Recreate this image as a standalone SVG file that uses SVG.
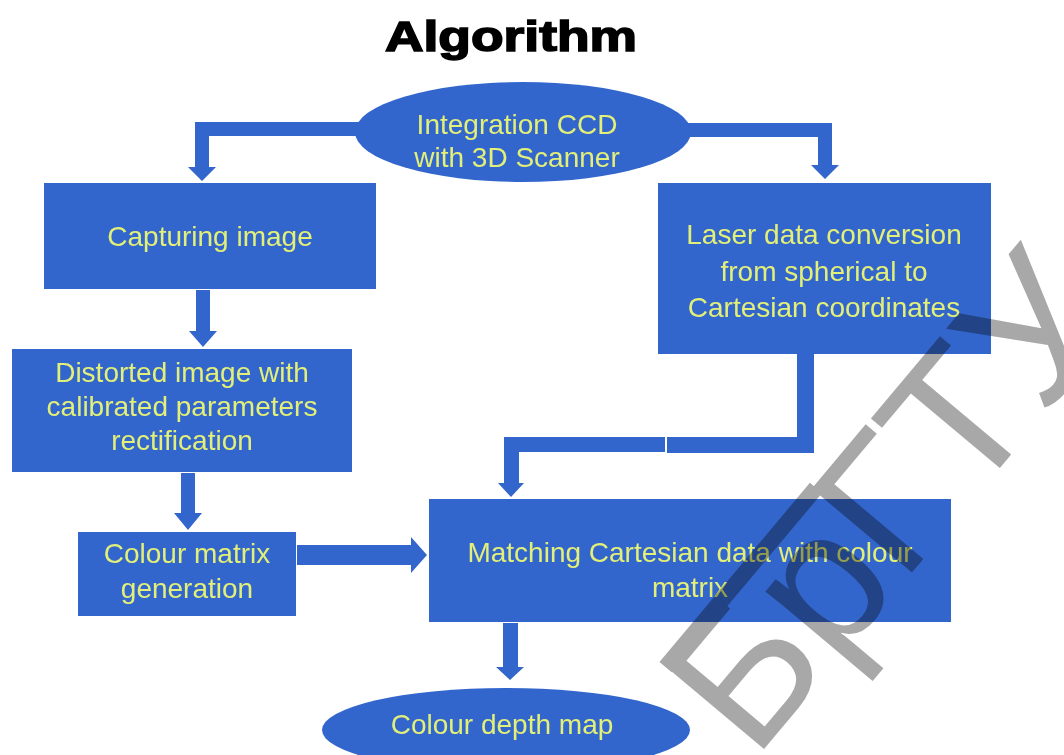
<svg xmlns="http://www.w3.org/2000/svg" width="1064" height="755" viewBox="0 0 1064 755">
<style>
.shape{fill:#3366CC}
.lbl{font-family:"Liberation Sans",Arial,sans-serif;font-size:28px;fill:#E2EF78;text-anchor:middle}
.title{font-family:"Liberation Sans",Arial,sans-serif;font-weight:bold;font-size:43px;fill:#000;stroke:#000;stroke-width:1.6px;text-anchor:middle}
.wm{font-family:"Liberation Sans",Arial,sans-serif;font-size:190px;fill:#A8A8A8}
</style>
<rect width="1064" height="755" fill="#FFFFFF"/>
<text class="title" x="511" y="51" textLength="252" lengthAdjust="spacingAndGlyphs">Algorithm</text>
<g id="connectors">
<path class="shape" d="M 365 122 H 195 V 167 H 188 L 202 181 L 216 167 H 209 V 136 H 365 Z"/>
<path class="shape" d="M 680 123 H 832 V 165 H 839 L 825 179 L 811 165 H 818 V 137 H 680 Z"/>
<path class="shape" d="M 196 290 H 210 V 331 H 217 L 203 347 L 189 331 H 196 Z"/>
<path class="shape" d="M 181 473 H 195 V 513 H 202 L 188 530 L 174 513 H 181 Z"/>
<path class="shape" d="M 297 545 H 411 V 537 L 427 555 L 411 573 V 565 H 297 Z"/>
<path class="shape" d="M 797 354 H 814 V 453 H 667 V 437 H 797 Z"/>
<path class="shape" d="M 665 437 V 452 H 519 V 483 H 524 L 511 497 L 498 483 H 504 V 437 Z"/>
<path class="shape" d="M 503 623 H 518 V 667 H 524 L 510 680 L 496 667 H 503 Z"/>
</g>
<g id="start">
<ellipse class="shape" cx="523" cy="132" rx="168" ry="50"/>
<text class="lbl" x="517" y="134">Integration CCD</text>
<text class="lbl" x="517" y="167">with 3D Scanner</text>
</g>
<g id="capturing">
<rect class="shape" x="44" y="183" width="332" height="106"/>
<text class="lbl" x="210" y="246">Capturing image</text>
</g>
<g id="laser">
<rect class="shape" x="658" y="183" width="333" height="171"/>
<text class="lbl" x="824" y="244">Laser data conversion</text>
<text class="lbl" x="824" y="281">from spherical to</text>
<text class="lbl" x="824" y="317">Cartesian coordinates</text>
</g>
<g id="distorted">
<rect class="shape" x="12" y="349" width="340" height="123"/>
<text class="lbl" x="182" y="382">Distorted image with</text>
<text class="lbl" x="182" y="416">calibrated parameters</text>
<text class="lbl" x="182" y="450">rectification</text>
</g>
<g id="colour-matrix">
<rect class="shape" x="78" y="532" width="218" height="84"/>
<text class="lbl" x="187" y="563">Colour matrix</text>
<text class="lbl" x="187" y="598">generation</text>
</g>
<g id="matching">
<rect class="shape" x="429" y="499" width="522" height="123"/>
<text class="lbl" x="690" y="562">Matching Cartesian data with colour</text>
<text class="lbl" x="690" y="597">matrix</text>
</g>
<g id="end">
<ellipse class="shape" cx="506" cy="730" rx="184" ry="42"/>
<text class="lbl" x="502" y="734">Colour depth map</text>
</g>
<g id="watermark" style="mix-blend-mode:multiply" transform="translate(754 761) rotate(-50)">
<rect x="15" y="-136" width="234" height="16" fill="#A8A8A8"/>
<text class="wm" x="0" y="0">БрГТУ</text>
</g>
</svg>
